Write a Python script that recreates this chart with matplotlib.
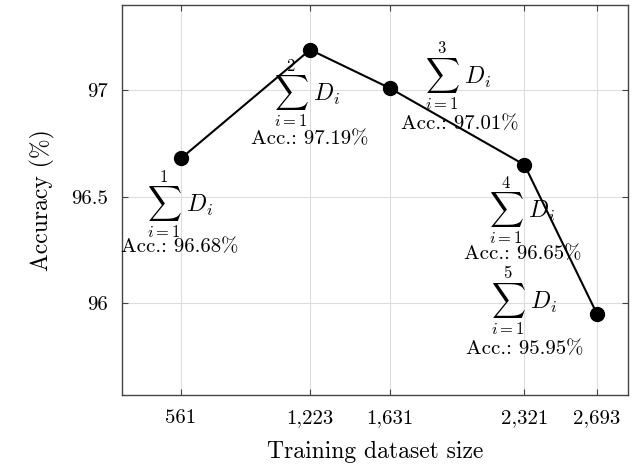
import matplotlib
matplotlib.use('Agg')
import matplotlib.pyplot as plt

plt.rcParams['mathtext.fontset'] = 'cm'
plt.rcParams['font.family'] = 'cmr10'
plt.rcParams['axes.formatter.use_mathtext'] = True

# Данные
sizes = [561, 1223, 1631, 2321, 2693]
accuracy = [96.68, 97.19, 97.01, 96.65, 95.95]
size_labels = ['561', '1,223', '1,631', '2,321', '2,693']
acc_labels = ['Acc.: 96.68%', 'Acc.: 97.19%', 'Acc.: 97.01%', 'Acc.: 96.65%', 'Acc.: 95.95%']
y_ticks = [96, 96.5, 97]
y_tick_labels = ['96', '96.5', '97']

# смещения подписей в пикселях (сумма, точность)
sum_offsets = [(-1, -46), (-3, -43), (68, 12), (-2, -45), (-73, 13)]
acc_offsets = [(-1, -89), (0, -90), (70, -36), (-2, -89), (-72, -35)]

fig = plt.figure(figsize=(6.37, 4.75), dpi=100)
ax = fig.add_axes([0.1915, 0.1684, 0.7945, 0.8211])

ax.plot(sizes, accuracy, color='black', linewidth=1.5, marker='o', markersize=10, zorder=3)

for i, (x, y) in enumerate(zip(sizes, accuracy)):
    ax.annotate(r'$\sum_{i=1}^{%d}\,\, D_i$' % (i + 1), xy=(x, y), xytext=sum_offsets[i],
                textcoords='offset pixels', ha='center', va='center', fontsize=17)
    ax.annotate(acc_labels[i], xy=(x, y), xytext=acc_offsets[i],
                textcoords='offset pixels', ha='center', va='center', fontsize=15)

ax.set_xlim(259, 2852)
ax.set_ylim(95.57, 97.40)
ax.set_xticks(sizes)
ax.set_xticklabels(size_labels)
ax.set_yticks(y_ticks)
ax.set_yticklabels(y_tick_labels)
ax.tick_params(direction='in', top=True, right=True, labelsize=15, length=4, color='#444444', pad=10)
ax.grid(True, color='#dddddd', linewidth=0.8)
ax.set_axisbelow(True)
for s in ax.spines.values():
    s.set_color('#444444')
    s.set_linewidth(1.0)

ax.set_xlabel('Training dataset size', fontsize=17, labelpad=10)
ax.set_ylabel('Accuracy (%)', fontsize=17, labelpad=12)

fig.savefig('out.png', dpi=100)
